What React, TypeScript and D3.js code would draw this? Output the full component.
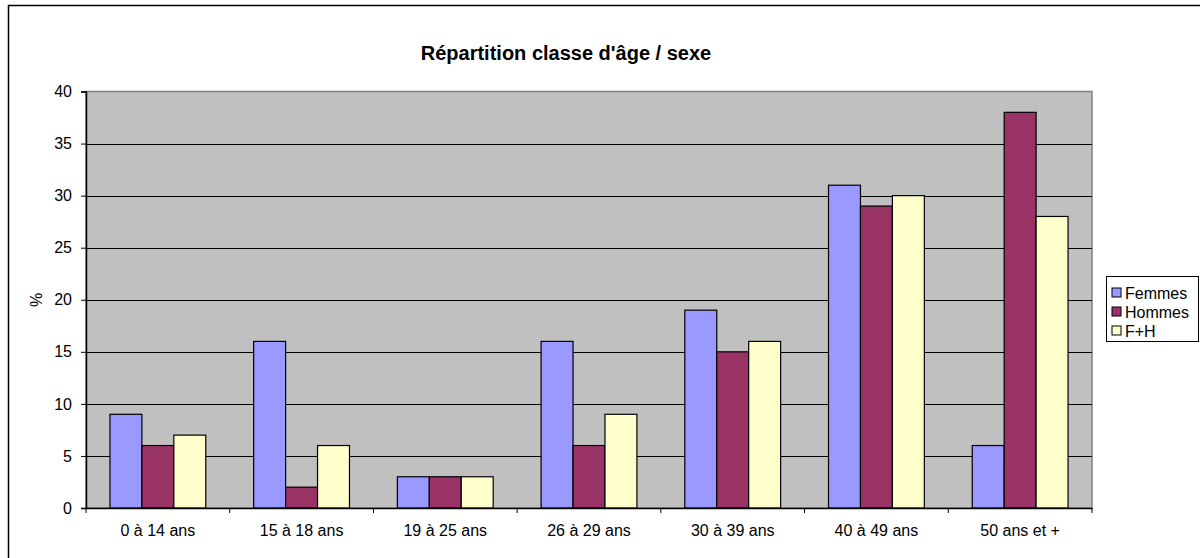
import { useEffect, useRef } from 'react'
import * as d3 from 'd3'

const categories = ['0 à 14 ans', '15 à 18 ans', '19 à 25 ans', '26 à 29 ans', '30 à 39 ans', '40 à 49 ans', '50 ans et +']
const seriesNames = ['Femmes', 'Hommes', 'F+H']
const femmes = [9, 16, 3, 16, 19, 31, 6]
const hommes = [6, 2, 3, 6, 15, 29, 38]
const total = [7, 6, 3, 9, 16, 30, 28]
const yTicks = [0, 5, 10, 15, 20, 25, 30, 35, 40]
const colors = ['#9999FF', '#993366', '#FFFFCC']

const App = () => {
  const ref = useRef<SVGSVGElement>(null)

  useEffect(() => {
    const svg = d3.select(ref.current)
    svg.selectAll('*').remove()
    const font = 'Arial, "Liberation Sans", sans-serif'

    const left = 86
    const right = 1092
    const top = 91.5
    const bottom = 508

    // chart outer frame (right/bottom edges fall off the picture)
    svg.append('rect')
      .attr('x', 8.5).attr('y', 5.5)
      .attr('width', 1210).attr('height', 570)
      .attr('fill', '#fff').attr('stroke', '#000').attr('stroke-width', 1.5)

    svg.append('text')
      .attr('x', 566).attr('y', 60)
      .attr('text-anchor', 'middle')
      .attr('font-family', font).attr('font-size', 20).attr('font-weight', 'bold')
      .text("Répartition classe d'âge / sexe")

    const x = d3.scaleBand().domain(categories).range([left, right])
    const y = d3.scaleLinear().domain([0, 40]).range([bottom, top])
    const bw = x.bandwidth() / 4.5
    const xs = d3.scaleBand().domain(seriesNames).range([0.75 * bw, 3.75 * bw])

    svg.append('rect')
      .attr('x', left).attr('y', top)
      .attr('width', right - left).attr('height', bottom - top)
      .attr('fill', '#C0C0C0').attr('stroke', '#808080').attr('stroke-width', 1.5)

    svg.append('g')
      .selectAll('line')
      .data(yTicks.filter((t) => t > 0 && t < 40))
      .enter()
      .append('line')
      .attr('x1', left).attr('x2', right)
      .attr('y1', (d) => Math.round(y(d)) + 0.5).attr('y2', (d) => Math.round(y(d)) + 0.5)
      .attr('stroke', '#000').attr('stroke-width', 1)

    const seriesData = [femmes, hommes, total]
    seriesData.forEach((vals, si) => {
      svg.append('g')
        .selectAll('rect')
        .data(vals)
        .enter()
        .append('rect')
        .attr('x', (d, i) => (x(categories[i]) as number) + (xs(seriesNames[si]) as number))
        .attr('y', (d) => y(d))
        .attr('width', xs.bandwidth())
        .attr('height', (d) => bottom - y(d))
        .attr('fill', colors[si])
        .attr('stroke', '#000').attr('stroke-width', 1.2)
    })

    // axes
    const yAxis = svg.append('g')
      .attr('transform', `translate(${left},0)`)
      .call(d3.axisLeft(y).tickValues(yTicks).tickSize(5).tickPadding(9))
    yAxis.select('.domain').attr('stroke', '#000').attr('stroke-width', 1.5)
    yAxis.selectAll('text').attr('font-family', font).attr('font-size', 16).attr('fill', '#000')

    const xAxis = svg.append('g')
      .attr('transform', `translate(0,${bottom})`)
      .call(d3.axisBottom(x).tickSize(0).tickPadding(17))
    xAxis.select('.domain').attr('stroke', '#000').attr('stroke-width', 1.5)
    xAxis.selectAll('text').attr('font-family', font).attr('font-size', 16).attr('fill', '#000')
    xAxis.selectAll('line.sep')
      .data(d3.range(categories.length + 1))
      .enter()
      .append('line')
      .attr('class', 'sep')
      .attr('x1', (d) => left + d * x.step()).attr('x2', (d) => left + d * x.step())
      .attr('y1', 0).attr('y2', 5)
      .attr('stroke', '#000')

    svg.append('text')
      .attr('transform', 'translate(42,300) rotate(-90)')
      .attr('text-anchor', 'middle')
      .attr('font-family', font).attr('font-size', 16)
      .text('%')

    // legend
    const lg = svg.append('g').attr('transform', 'translate(1106,276)')
    lg.append('rect')
      .attr('x', 0.5).attr('y', 0.5).attr('width', 92).attr('height', 65)
      .attr('fill', '#fff').attr('stroke', '#000')
    const items = lg.selectAll('g.item')
      .data(seriesNames)
      .enter()
      .append('g')
      .attr('class', 'item')
      .attr('transform', (d, i) => `translate(6,${17 + i * 19})`)
    items.append('rect')
      .attr('x', 0).attr('y', -5).attr('width', 9).attr('height', 9)
      .attr('fill', (d, i) => colors[i]).attr('stroke', '#000')
    items.append('text')
      .attr('x', 13).attr('y', 6)
      .attr('font-family', font).attr('font-size', 16)
      .text((d) => d)
  }, [])

  return (
    <svg
      ref={ref}
      width={1200}
      height={558}
      style={{ position: 'absolute', left: 0, top: 0, background: '#fff' }}
    />
  )
}

export default App
